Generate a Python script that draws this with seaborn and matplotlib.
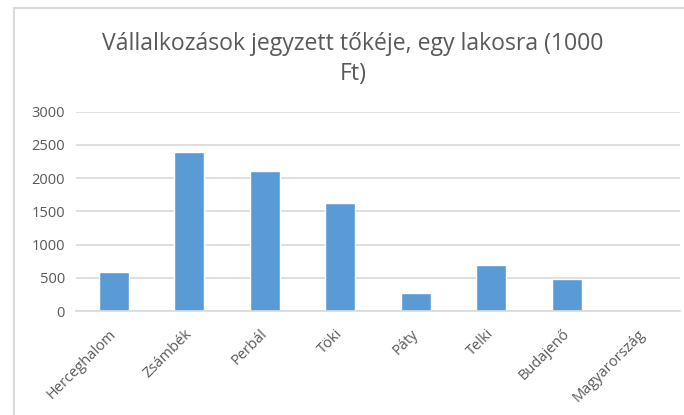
import matplotlib
matplotlib.use("Agg")
import matplotlib.pyplot as plt
import matplotlib.transforms as mtransforms
import seaborn as sns
import pandas as pd
from matplotlib.lines import Line2D

# Települések és az egy lakosra jutó jegyzett tőke (1000 Ft)
telepulesek = ["Herceghalom", "Zsámbék", "Perbál", "Töki", "Páty",
               "Telki", "Budajenő", "Magyarország"]
toke = [590, 2400, 2110, 1630, 265, 690, 480, 0]
y_ticks = [0, 500, 1000, 1500, 2000, 2500, 3000]

df = pd.DataFrame({"telepules": telepulesek, "toke": toke})

sns.set_theme(style="white")
plt.rcParams["font.family"] = ["Open Sans", "DejaVu Sans"]

W, H = 684, 415
fig = plt.figure(figsize=(W / 100, H / 100), dpi=100)
ax = fig.add_axes([76 / W, 1 - 311 / H, (680 - 76) / W, (311 - 111.7) / H])

sns.barplot(data=df, x="telepules", y="toke", color="#5b9bd5",
            saturation=1, width=0.4, ax=ax)

ax.set_ylim(0, 3000)
ax.set_yticks(y_ticks)
ax.set_yticklabels([str(v) for v in y_ticks])
ax.yaxis.grid(True, color="#d9d9d9", linewidth=1.2)
ax.set_axisbelow(True)
for s in ["top", "right", "left"]:
    ax.spines[s].set_visible(False)
ax.spines["bottom"].set_color("#d9d9d9")
ax.spines["bottom"].set_linewidth(1.2)

ax.set_xlabel("")
ax.set_ylabel("")
ax.tick_params(axis="both", length=0, colors="#595959", labelsize=10.5)
ax.tick_params(axis="y", pad=8)
ax.tick_params(axis="x", pad=4)

# Elforgatott kategóriafeliratok, kissé lejjebb és balra tolva
shift = mtransforms.ScaledTranslation(-5 / 100, -10 / 100, fig.dpi_scale_trans)
for lbl in ax.get_xticklabels():
    lbl.set_rotation(45)
    lbl.set_ha("right")
    lbl.set_rotation_mode("anchor")
    lbl.set_transform(lbl.get_transform() + shift)

fig.text(353 / W, 1 - 59 / H,
         "Vállalkozások jegyzett tőkéje, egy lakosra (1000\nFt)",
         ha="center", va="center", fontsize=16.6, color="#595959",
         linespacing=1.3)

# Diagramkeret: bal és felső szegély
frame_kw = dict(color="#d9d9d9", linewidth=1.5,
                transform=fig.transFigure)
fig.add_artist(Line2D([13.5 / W, 13.5 / W], [0, 1 - 8.5 / H], **frame_kw))
fig.add_artist(Line2D([13.5 / W, 1], [1 - 8.5 / H, 1 - 8.5 / H], **frame_kw))

fig.savefig("out.png", dpi=100)
